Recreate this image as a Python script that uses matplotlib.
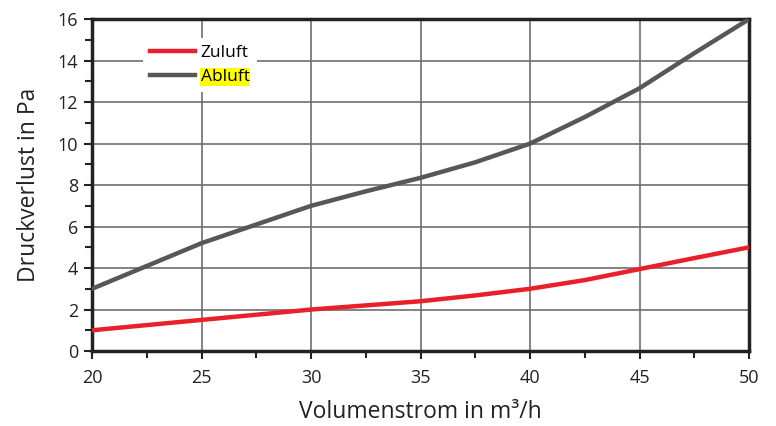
import numpy as np
import matplotlib.pyplot as plt

volumen = [20, 22.5, 25, 27.5, 30, 32.5, 35, 37.5, 40, 42.5, 45, 47.5, 50]
zuluft = [1.0, 1.25, 1.5, 1.75, 2.0, 2.2, 2.4, 2.68, 3.0, 3.42, 3.95, 4.48, 5.0]
abluft = [3.0, 4.1, 5.2, 6.1, 7.0, 7.7, 8.35, 9.1, 10.0, 11.28, 12.67, 14.36, 16.0]

plt.rcParams['font.family'] = ['Open Sans', 'DejaVu Sans']

fig = plt.figure(figsize=(7.76, 4.26), dpi=100)
ax = fig.add_axes([0.1186, 0.176, 0.8466, 0.779])

ax.plot(volumen, zuluft, color='#e8202a', lw=3.2, label='Zuluft', zorder=3)
ax.plot(volumen, abluft, color='#575757', lw=3.2, label='Abluft', zorder=3)

ax.set_xlim(20, 50)
ax.set_ylim(0, 16)
ax.set_xticks(np.arange(20, 51, 5))
ax.set_xticks(np.arange(22.5, 50, 5), minor=True)
ax.set_yticks(np.arange(0, 17, 2))
ax.set_yticks(np.arange(1, 16, 2), minor=True)
ax.grid(True, which='major', color='#6e6e6e', lw=1.2)
ax.set_axisbelow(True)

for s in ax.spines.values():
    s.set_linewidth(2.5)
    s.set_color('#222222')

ax.tick_params(which='major', length=6, width=1.5, labelsize=13, colors='#222222')
ax.tick_params(which='minor', length=5, width=1.5, colors='#222222')
ax.tick_params(axis='x', pad=7)
ax.tick_params(axis='y', pad=4)

ax.set_xlabel('Volumenstrom in m³/h', fontsize=16.5, color='#222222', labelpad=9)
ax.set_ylabel('Druckverlust in Pa', fontsize=16.5, color='#222222', labelpad=12)

leg = ax.legend(loc='upper left', bbox_to_anchor=(0.065, 0.97), frameon=True,
                fancybox=False, edgecolor='none', facecolor='white', framealpha=1,
                fontsize=12.5, handlelength=2.6, handletextpad=0.3, labelspacing=0.45,
                borderpad=0.4)
leg.get_texts()[1].set_bbox(dict(facecolor='#ffff00', edgecolor='none', pad=0.5))

fig.savefig('out.png', dpi=100)
